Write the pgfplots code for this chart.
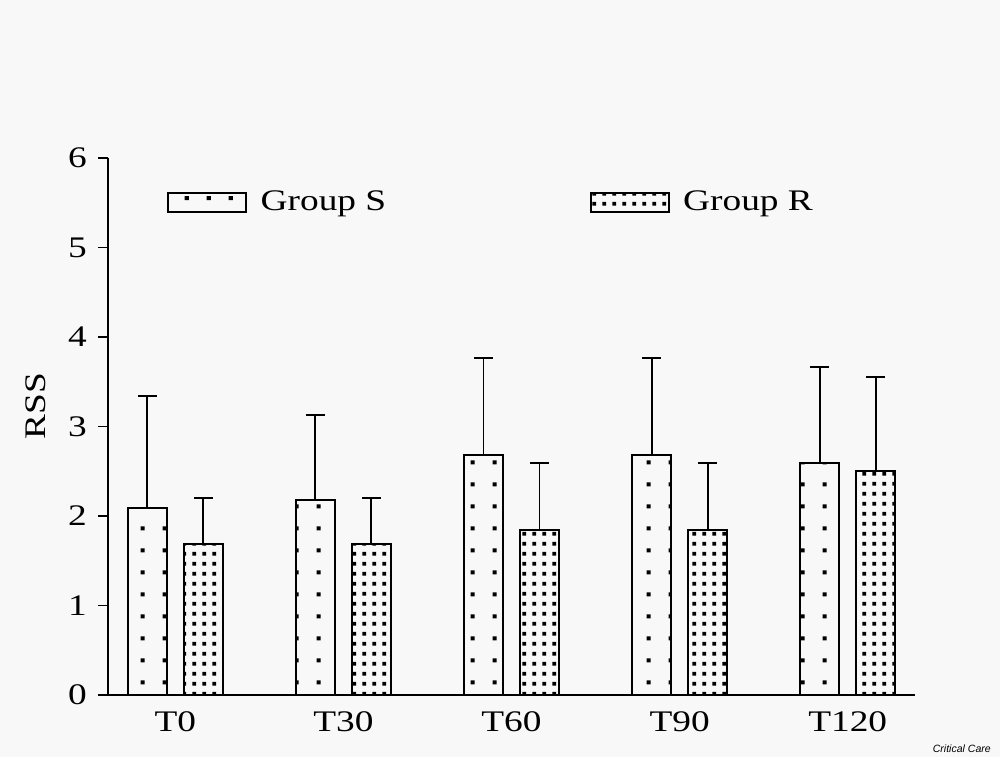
\documentclass[border=0pt]{standalone}
\usepackage{pgfplots}
\pgfplotsset{compat=1.18}
\usepackage{fontspec}
\setmainfont[FakeStretch=1.25]{Liberation Serif}
\newfontfamily\arialfont{Liberation Sans}
\usetikzlibrary{patterns.meta}
\definecolor{bg}{RGB}{248,248,248}
\tikzdeclarepattern{name=sdots, bounding box={(0,0) and (0.44cm,0.44cm)}, tile size={(0.44cm,0.44cm)},
  code={\fill (0.18cm,0.18cm) rectangle ++(0.085cm,0.085cm);}}
\tikzdeclarepattern{name=rdots, bounding box={(0,0) and (0.2cm,0.2cm)}, tile size={(0.2cm,0.2cm)},
  code={\fill (0.065cm,0.065cm) rectangle ++(0.075cm,0.075cm);}}
\begin{document}
\begin{tikzpicture}
\fill[bg] (0,0) rectangle (20cm,15.14cm);
\node[anchor=east, font=\arialfont\itshape\fontsize{6}{7}\selectfont] at (19.94cm,0.16cm) {Critical Care};
\begin{axis}[
  at={(2.16cm,1.24cm)}, anchor=south west,
  scale only axis, width=16.14cm, height=10.74cm,
  xmin=-0.4, xmax=4.4, ymin=0, ymax=6,
  axis x line=bottom, axis y line=left,
  axis line style={line width=1.1pt, -},
  xtick={0,1,2,3,4}, xticklabels={T0,T30,T60,T90,T120},
  major x tick style={draw=none},
  ytick={0,1,2,3,4,5,6},
  tick align=outside, major tick length=0.2cm,
  tick style={line width=1.1pt, black},
  tick label style={font=\fontsize{17}{20}\selectfont},
  yticklabel style={xshift=-0.1cm},
  /pgf/number format/assume math mode=true,
  ylabel={RSS}, ylabel style={font=\fontsize{17}{20}\selectfont, at={(axis description cs:-0.09,0.538)}, anchor=center},
  ybar, bar width=0.78cm,
  legend columns=2,
  legend style={at={(axis description cs:0.073,0.918)}, anchor=west, draw=none, fill=none, inner sep=0pt,
    font=\fontsize{17}{20}\selectfont,
    /tikz/every odd column/.append style={column sep=0.2cm},
    /tikz/every even column/.append style={column sep=4.0cm}},
  legend image code/.code={\draw[#1, line width=1.1pt] (0cm,-0.19cm) rectangle (1.56cm,0.19cm);},
  error bars/y dir=plus, error bars/y explicit,
  error bars/error bar style={line width=1.1pt, black},
  error bars/error mark options={rotate=90, mark size=0.19cm, line width=1.1pt, black},
]
\addplot[bar shift=-0.56cm, draw=black, line width=1.1pt, pattern=sdots]
  coordinates {(0,2.09) +- (0,1.25) (1,2.18) +- (0,0.95) (2,2.68) +- (0,1.09) (3,2.68) +- (0,1.09) (4,2.59) +- (0,1.08)};
\addlegendentry{Group S}
\addplot[bar shift=0.56cm, draw=black, line width=1.1pt, pattern=rdots]
  coordinates {(0,1.69) +- (0,0.51) (1,1.69) +- (0,0.51) (2,1.84) +- (0,0.75) (3,1.84) +- (0,0.75) (4,2.50) +- (0,1.05)};
\addlegendentry{Group R}
\end{axis}
\end{tikzpicture}
\end{document}
